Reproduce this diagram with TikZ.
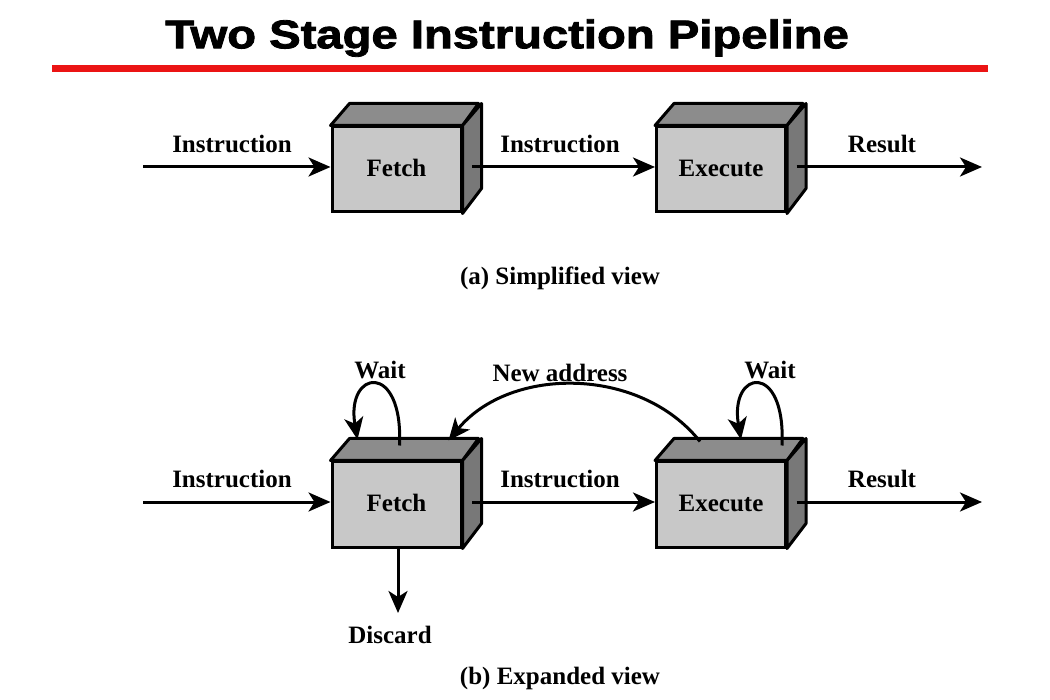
\documentclass[tikz,border=0pt]{standalone}
\usepackage{fontspec}
\usepackage{graphicx}
\setmainfont{Liberation Serif}
\newfontfamily\titlefont[BoldFeatures={FakeBold=2}]{Liberation Sans}
\usetikzlibrary{arrows.meta,calc}
\definecolor{frontgray}{RGB}{200,200,200}
\definecolor{topgray}{RGB}{140,140,140}
\definecolor{sidegray}{RGB}{120,120,120}
\definecolor{titlered}{RGB}{235,20,20}
\tikzset{
  front/.style={draw, fill=frontgray, line width=3pt, minimum width=129pt, minimum height=85pt, inner sep=0pt, text height=16pt, text depth=2pt, font=\bfseries\fontsize{25}{25}\selectfont},
  face/.style={draw, line width=3pt, line join=round},
  lbl/.style={font=\bfseries\fontsize{25}{25}\selectfont, inner sep=0pt},
  captxt/.style={font=\bfseries\fontsize{25}{25}\selectfont, inner sep=0pt},
  conn/.style={line width=3pt, -{Stealth[length=22pt,width=19pt,inset=6pt]}},
}
\newcommand\drawcube[1]{%
  \path[face, fill=topgray] (#1.north west) -- ++(19,-22) -- ++(129,0) -- (#1.north east) -- cycle;
  \path[face, fill=sidegray] (#1.north east) -- ++(19,-22) -- ++(0,85) -- (#1.south east) -- cycle;
  \coordinate (#1-side) at ($(#1.east)+(9.5,-11)$);
}
\begin{document}
\begin{tikzpicture}[x=1pt,y=-1pt]
\useasboundingbox (0,0) rectangle (1050,700);
% title
\node[inner sep=0pt] (title) at (507,38) {\scalebox{1.18}[1]{\titlefont\bfseries\fontsize{40}{40}\selectfont Two Stage Instruction Pipeline}};
\draw[titlered, line width=7pt] (52,69) -- (988,69);

% (a) simplified view
\node[front] (fa) at (396.5,169.5) {Fetch};
\drawcube{fa}
\node[front] (ea) at (721,169.5) {Execute};
\drawcube{ea}
\coordinate (ina) at (143,167);
\coordinate (outa) at (982,167);
\draw[conn] (ina) -- (ina -| fa.west);
\draw[conn] (fa-side |- ina) -- (ina -| ea.west);
\draw[conn] (ea-side |- ina) -- (outa);
\node[lbl] (l1a) at (232,144) {Instruction};
\node[lbl] (l2a) at (560,144) {Instruction};
\node[lbl] (l3a) at (882,144) {Result};
\node[captxt] (capa) at (560,278) {(a) Simplified view};

% (b) expanded view
\node[front] (fb) at (396.5,504.5) {Fetch};
\drawcube{fb}
\node[front] (eb) at (721,504.5) {Execute};
\drawcube{eb}
\coordinate (inb) at (143,502);
\coordinate (outb) at (982,502);
\draw[conn] (inb) -- (inb -| fb.west);
\draw[conn] (fb-side |- inb) -- (inb -| eb.west);
\draw[conn] (eb-side |- inb) -- (outb);
\node[lbl] (l1b) at (232,479) {Instruction};
\node[lbl] (l2b) at (560,479) {Instruction};
\node[lbl] (l3b) at (882,479) {Result};
\node[lbl] (disc) at (390,635) {Discard};
\coordinate (discend) at (398,613);
\draw[conn] (fb.south -| discend) -- (discend);
% loops
\coordinate (fw1) at ($(fb.north)+(3,-15)$);
\coordinate (fw2) at ($(fb.north)+(-39,-21)$);
\draw[conn] (fw1) .. controls ($(fw1)+(4,-85)$) and ($(fw2)+(-12,-70)$) .. (fw2);
\coordinate (ew1) at ($(eb.north)+(61,-15)$);
\coordinate (ew2) at ($(eb.north)+(20,-21)$);
\draw[conn] (ew1) .. controls ($(ew1)+(4,-85)$) and ($(ew2)+(-12,-70)$) .. (ew2);
\coordinate (na1) at ($(eb.north)+(-21,-19)$);
\coordinate (na2) at ($(fb.north)+(52,-20)$);
\draw[conn] (na1) .. controls (640,366) and (510,366) .. (na2);
\node[lbl] (w1) at (380,370) {Wait};
\node[lbl] (w2) at (770,370) {Wait};
\node[lbl] (na) at (560,373) {New address};
\node[captxt] (capb) at (560,678) {(b) Expanded view};
\end{tikzpicture}
\end{document}
